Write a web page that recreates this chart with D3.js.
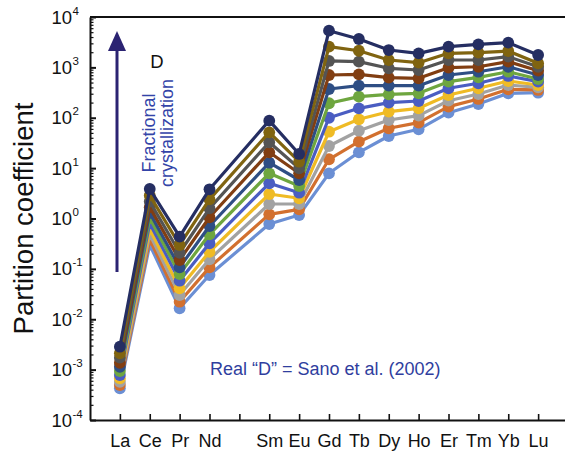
<!DOCTYPE html>
<html>
<head>
<meta charset="utf-8">
<script src="https://cdn.jsdelivr.net/npm/d3@7"></script>
<style>
  html, body { margin: 0; padding: 0; background: #fff; }
  svg { display: block; font-family: "Liberation Sans", Arial, sans-serif; }
</style>
</head>
<body>
<svg id="chart" width="565" height="454"></svg>
<script>
// ---------- DATA ----------
const elements = ["La","Ce","Pr","Nd","Pm","Sm","Eu","Gd","Tb","Dy","Ho","Er","Tm","Yb","Lu"];
const plotted  = ["La","Ce","Pr","Nd","Sm","Eu","Gd","Tb","Dy","Ho","Er","Tm","Yb","Lu"];
const yTickExponents = [-4,-3,-2,-1,0,1,2,3,4];

// series from lowest (least fractionated) to highest
const s01 = [0.000426, 0.302, 0.0165, 0.0755, 0.778, 1.17, 7.89, 20.6, 43.4, 59.0, 126, 187, 305, 314];
const s02 = [0.000495, 0.382, 0.0223, 0.107, 1.21, 1.52, 15.0, 33.5, 61.8, 79.8, 166, 236, 367, 356];
const s03 = [0.000575, 0.484, 0.0303, 0.155, 1.94, 1.94, 27.5, 55.3, 90.2, 110, 218, 296, 447, 401];
const s04 = [0.000673, 0.615, 0.0411, 0.219, 3.06, 2.52, 52.8, 93.1, 132, 154, 283, 385, 536, 447];
const s05 = [0.000782, 0.805, 0.0582, 0.322, 5.00, 3.25, 100, 154, 199, 215, 385, 483, 675, 520];
const s06 = [0.00094, 1.02, 0.0791, 0.485, 7.89, 4.42, 194, 262, 292, 305, 520, 635, 820, 587];
const s07 = [0.00114, 1.30, 0.107, 0.710, 12.8, 5.81, 372, 433, 433, 433, 706, 820, 1030, 706];
const s08 = [0.00137, 1.68, 0.150, 1.06, 20.6, 7.89, 706, 728, 624, 607, 986, 1030, 1300, 859];
const s09 = [0.00173, 2.18, 0.209, 1.59, 32.6, 9.91, 1340, 1300, 959, 887, 1400, 1400, 1630, 1030];
const s10 = [0.00211, 2.87, 0.298, 2.40, 51.4, 13.4, 2580, 2140, 1400, 1240, 1900, 1960, 2110, 1205];
const s11 = [0.00285, 3.85, 0.436, 3.80, 87.5, 19.1, 5350, 3660, 2210, 1900, 2580, 2870, 3090, 1760];

const seriesValues = [s01,s02,s03,s04,s05,s06,s07,s08,s09,s10,s11];
const seriesColors = ["#6b8fd4","#d2702f","#a2a2a2","#efbb25","#4a5dc2","#6ea63f",
                      "#2e4e84","#813e12","#545454","#806410","#252e62"];

// ---------- LAYOUT ----------
const svg = d3.select("#chart");
const W = 565, H = 454;
const plotLeft = 90, plotTop = 17, plotBottom = 420, plotRight = 568;

svg.append("rect").attr("width", W).attr("height", H).attr("fill", "#fff");

const x = d3.scaleLinear().domain([-1, 15]).range([plotLeft, plotRight]);
const y = d3.scaleLog().domain([1e-4, 1e4]).range([plotBottom, plotTop]);

svg.append("line")
  .attr("x1", plotLeft).attr("x2", plotRight).attr("y1", plotTop).attr("y2", plotTop)
  .attr("stroke", "#111").attr("stroke-width", 2);

// ---------- SERIES ----------
const line = d3.line()
  .x(d => x(elements.indexOf(d.el)))
  .y(d => y(d.v));

const gSeries = svg.append("g");
seriesValues.forEach((vals, i) => {
  const pts = plotted.map((el, j) => ({el, v: vals[j]}));
  const g = gSeries.append("g");
  g.append("path").datum(pts)
    .attr("d", line)
    .attr("fill", "none")
    .attr("stroke", seriesColors[i])
    .attr("stroke-width", 3.2)
    .attr("stroke-linejoin", "round");
  g.selectAll("circle").data(pts).enter().append("circle")
    .attr("cx", d => x(elements.indexOf(d.el)))
    .attr("cy", d => y(d.v))
    .attr("r", 5.9)
    .attr("fill", seriesColors[i]);
});

// ---------- AXES ----------
const xAxis = d3.axisBottom(x)
  .tickValues(d3.range(0, elements.length))
  .tickSizeInner(-6).tickSizeOuter(0).tickPadding(14)
  .tickFormat(i => elements[i] === "Pm" ? "" : elements[i]);
const gx = svg.append("g").attr("transform", `translate(0,${plotBottom})`).call(xAxis);
gx.select(".domain").attr("stroke", "#111").attr("stroke-width", 2);
gx.selectAll(".tick line").attr("stroke", "#111").attr("stroke-width", 1.6);
gx.selectAll(".tick text").attr("font-size", 18).attr("fill", "#111")
  .attr("font-family", "'Liberation Sans', Arial, sans-serif");

const majors = yTickExponents.map(e => Math.pow(10, e));
const minors = [];
yTickExponents.slice(0, -1).forEach(e => {
  for (let m = 2; m <= 9; m++) minors.push(m * Math.pow(10, e));
});
const gyMin = svg.append("g").attr("transform", `translate(${plotLeft},0)`)
  .call(d3.axisLeft(y).tickValues(minors).tickSizeInner(-3.5).tickSizeOuter(0).tickFormat(""));
gyMin.select(".domain").remove();
gyMin.selectAll(".tick line").attr("stroke", "#111").attr("stroke-width", 1.2);

const gy = svg.append("g").attr("transform", `translate(${plotLeft},0)`)
  .call(d3.axisLeft(y).tickValues(majors).tickSizeInner(-6).tickSizeOuter(0).tickFormat(""));
gy.select(".domain").attr("stroke", "#111").attr("stroke-width", 2);
gy.selectAll(".tick line").attr("stroke", "#111").attr("stroke-width", 2);

const gyl = svg.append("g");
yTickExponents.forEach(e => {
  gyl.append("text")
    .attr("x", 72).attr("y", y(Math.pow(10, e)) + 6.5)
    .attr("text-anchor", "end")
    .attr("font-size", 18.5).attr("fill", "#111")
    .text("10");
  gyl.append("text")
    .attr("x", 72.5).attr("y", y(Math.pow(10, e)) - 2.5)
    .attr("text-anchor", "start")
    .attr("font-size", 11.5).attr("fill", "#111")
    .text(e < 0 ? "-" + Math.abs(e) : String(e));
});

svg.append("text")
  .attr("transform", `translate(32.5,218.5) rotate(-90)`)
  .attr("text-anchor", "middle")
  .attr("font-size", 27.5).attr("fill", "#111")
  .text("Partition coefficient");

// ---------- ANNOTATIONS ----------
const arrowColor = "#2b2372";
svg.append("line")
  .attr("x1", 117).attr("x2", 117).attr("y1", 272).attr("y2", 46)
  .attr("stroke", arrowColor).attr("stroke-width", 3);
svg.append("path")
  .attr("d", "M117,31 L108,51 L126,51 Z")
  .attr("fill", arrowColor);

svg.append("text")
  .attr("x", 157).attr("y", 68)
  .attr("text-anchor", "middle")
  .attr("font-size", 18.5).attr("fill", "#111")
  .text("D");

const fc = svg.append("text")
  .attr("transform", "translate(158,133) rotate(-90)")
  .attr("text-anchor", "middle")
  .attr("font-size", 18).attr("fill", "#3344a8");
fc.append("tspan").attr("x", 0).attr("y", -3).text("Fractional");
fc.append("tspan").attr("x", 0).attr("y", 14.5).text("crystallization");

svg.append("text")
  .attr("x", 210).attr("y", 375)
  .attr("font-size", 18).attr("fill", "#2f3e9e")
  .text("Real \u201CD\u201D = Sano et al. (2002)");
</script>
</body>
</html>
